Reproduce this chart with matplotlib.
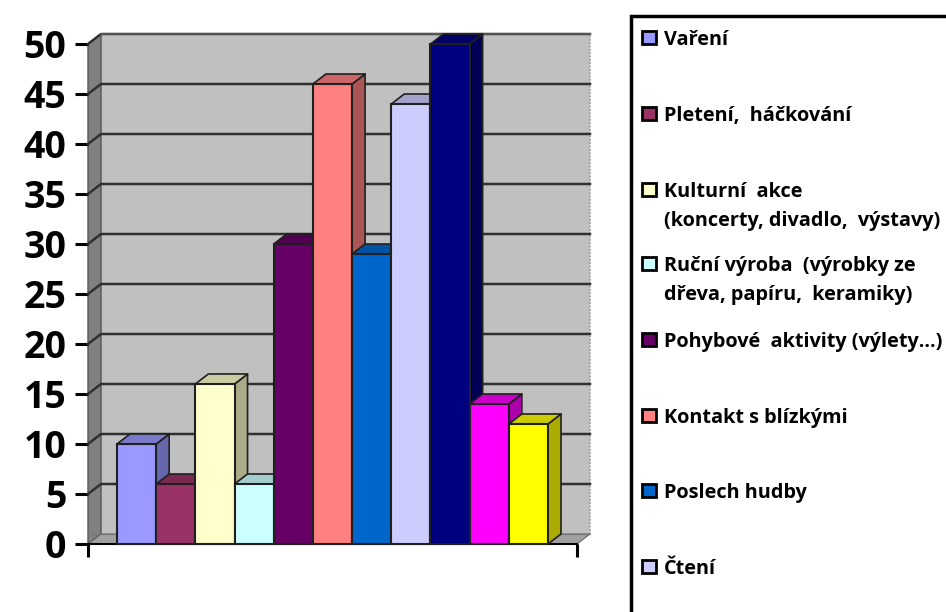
import matplotlib
matplotlib.use('Agg')
import matplotlib.pyplot as plt
import matplotlib.colors as mc
from matplotlib.patches import Polygon, Rectangle

plt.rcParams['font.family'] = ['Open Sans', 'DejaVu Sans']
plt.rcParams['font.weight'] = 'bold'

labels = ['Vaření', 'Pletení,  háčkování', 'Kulturní  akce\n(koncerty, divadlo,  výstavy)',
          'Ruční výroba  (výrobky ze\ndřeva, papíru,  keramiky)', 'Pohybové  aktivity (výlety…)',
          'Kontakt s blízkými', 'Poslech hudby', 'Čtení']
values = [10, 6, 16, 6, 30, 46, 29, 44, 50, 14, 12]
colors = ['#9999FF', '#993366', '#FFFFCC', '#CCFFFF', '#660066', '#FF8080',
          '#0066CC', '#CCCCFF', '#000080', '#FF00FF', '#FFFF00']
yticks = [0, 5, 10, 15, 20, 25, 30, 35, 40, 45, 50]
legend_y = [38, 114, 190, 264, 340, 416, 491, 567]

W, H = 946, 612
DX = 13 / 39.2   # depth of the 3d effect, data units
DY = 1.0


def shade(c, f):
    r, g, b = mc.to_rgb(c)
    return (r * f, g * f, b * f)


fig = plt.figure(figsize=(W / 100, H / 100), dpi=100)
ax = fig.add_axes([88 / W, 1 - 544 / H, 489 / W, 500 / H])
xmin, xmax = -0.5 - 29 / 39.2, 10.5 + 29 / 39.2
ax.set_xlim(xmin, xmax)
ax.set_ylim(0, 50)
ax.patch.set_visible(False)
for s in ['top', 'right']:
    ax.spines[s].set_visible(False)
ax.spines['left'].set_visible(False)
ax.spines['bottom'].set_linewidth(1.5)

top = 50 + DY

# walls
ax.add_patch(Polygon([(xmin + DX, DY), (xmax + DX, DY), (xmax + DX, top), (xmin + DX, top)],
                     fc='#C0C0C0', ec='none', clip_on=False, zorder=1))
ax.add_patch(Polygon([(xmin, 0), (xmin + DX, DY), (xmin + DX, top), (xmin, 50)],
                     fc='#808080', ec='#555555', lw=1.0, clip_on=False, zorder=1))
ax.add_patch(Polygon([(xmin, 0), (xmax, 0), (xmax + DX, DY), (xmin + DX, DY)],
                     fc='#A0A0A0', ec='#666666', lw=0.8, clip_on=False, zorder=1))
ax.plot([xmax + DX, xmax + DX], [DY, top], color='#999999', lw=1.2, ls=(0, (1, 1)),
        clip_on=False, zorder=1.5)

# gridlines on the back and side wall
for t in yticks[1:]:
    ax.plot([xmin, xmin + DX, xmax + DX], [t, t + DY, t + DY], color='#303030', lw=1.8,
            clip_on=False, zorder=2)
ax.plot([xmin, xmin + DX, xmax + DX], [DY, DY, DY], color='#777777', lw=0.8, clip_on=False, zorder=2)
ax.plot([xmin + DX, xmax + DX], [top, top], color='#555555', lw=1.4, clip_on=False, zorder=2)

# bars, left to right so that each one covers the side of the one before
for i, (v, c) in enumerate(zip(values, colors)):
    z = 3 + i
    l, r = i - 0.5, i + 0.5
    ax.add_patch(Polygon([(r, 0), (r + DX, DY), (r + DX, v + DY), (r, v)], fc=shade(c, 0.67),
                         ec='#202020', lw=1.2, clip_on=False, zorder=z, joinstyle='round'))
    ax.add_patch(Polygon([(l, v), (r, v), (r + DX, v + DY), (l + DX, v + DY)], fc=shade(c, 0.8),
                         ec='#202020', lw=1.2, clip_on=False, zorder=z, joinstyle='round'))
    ax.bar(i, v, width=1, color=c, edgecolor='#202020', linewidth=1.5, zorder=z + 0.5, clip_on=False)

ax.set_xticks([xmin, xmax])
ax.set_xticklabels([])
ax.tick_params(axis='x', length=9, width=2.2, direction='out')
ax.set_yticks(yticks)
ax.tick_params(axis='y', length=9.5, width=2.2, direction='out', labelsize=27, pad=6)
for lab in ax.get_yticklabels():
    lab.set_fontweight('bold')

# legend box runs past the right and bottom edges of the picture
fig.add_artist(Rectangle((631 / W, -0.05), 0.5, 1 - 16 / H + 0.05, transform=fig.transFigure,
                         fc='white', ec='black', lw=2.5))
for lab, c, y in zip(labels, colors[:8], legend_y):
    fig.add_artist(Rectangle((642 / W, 1 - (y + 6) / H), 14 / W, 13 / H, transform=fig.transFigure,
                             fc=c, ec='black', lw=2.0))
    fig.text(664 / W, 1 - (y - 8) / H, lab, fontsize=14.3, fontweight='bold', va='top', ha='left',
             linespacing=1.6)

fig.savefig('out.png', dpi=100)
